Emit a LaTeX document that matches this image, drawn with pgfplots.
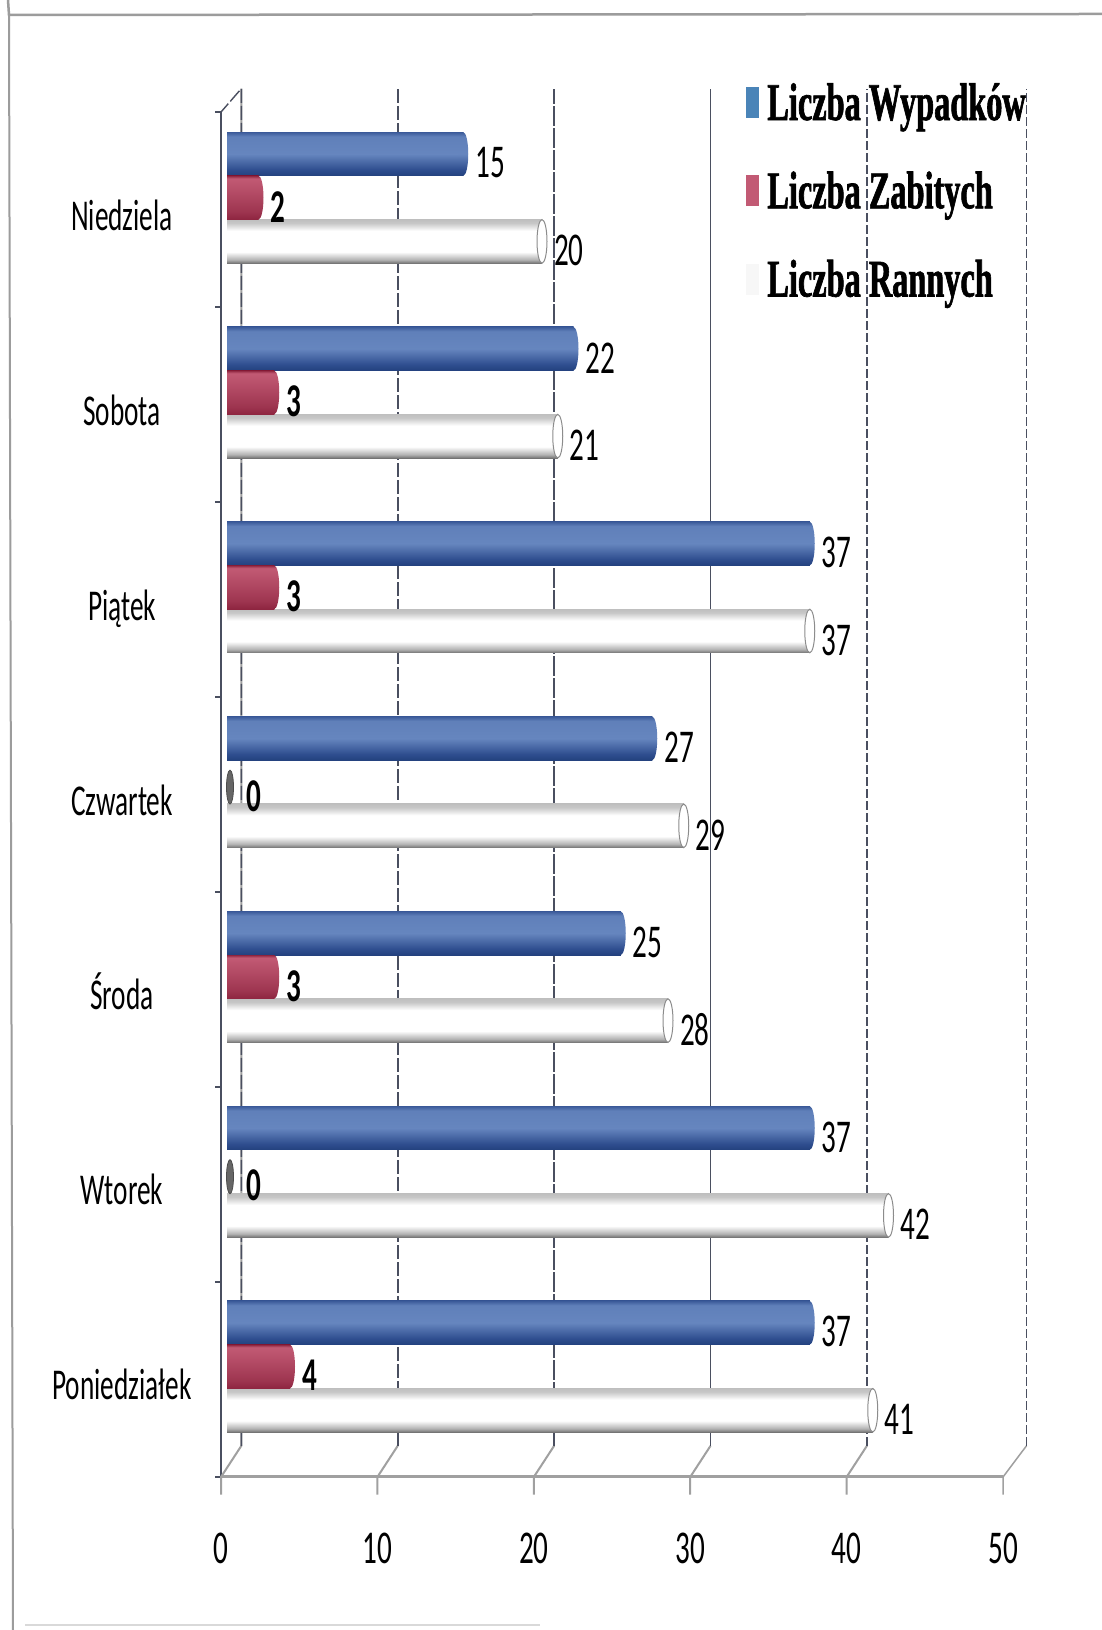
\documentclass[border=0pt]{standalone}
\usepackage{pgfplots}
\pgfplotsset{compat=1.18}
\usepackage{fontspec}
\setmainfont{Carlito}
\newfontfamily\cond[FakeStretch=0.62]{Carlito}
\newfontfamily\legf[FakeStretch=0.61,FakeBold=1.2]{Liberation Serif}
\definecolor{wall}{HTML}{4A4F60}
\definecolor{floorc}{HTML}{A0A0A0}
\definecolor{blueL}{HTML}{6C8CC4}
\definecolor{blueD}{HTML}{2F4E8F}
\definecolor{blueE}{HTML}{23417E}
\definecolor{blueK}{HTML}{4A84B8}
\definecolor{redL}{HTML}{C25A74}
\definecolor{redD}{HTML}{8E2540}
\definecolor{frameC}{HTML}{9C9C9C}
\pgfdeclareverticalshading{bluecyl}{100bp}{
 color(0bp)=(blueE); color(25bp)=(blueE); color(32bp)=(blueD); color(50bp)=(blueL!90!blueD); color(70bp)=(blueL!80!blueD); color(75bp)=(blueD!80!blueL); color(100bp)=(blueD!80!blueL)}
\pgfdeclareverticalshading{redcyl}{100bp}{
 color(0bp)=(redD); color(25bp)=(redD); color(34bp)=(redD!70!redL); color(55bp)=(redL!70!redD); color(72bp)=(redL); color(75bp)=(redD); color(100bp)=(redD)}
\pgfdeclareverticalshading{whitecyl}{100bp}{
 color(0bp)=(black!55); color(25bp)=(black!55); color(29bp)=(black!30); color(38bp)=(white); color(62bp)=(white); color(71bp)=(black!22); color(75bp)=(black!25); color(100bp)=(black!25)}
\pgfdeclareplotmark{capB}{%
 \pgfpathellipse{\pgfpointorigin}{\pgfpoint{5pt}{0pt}}{\pgfpoint{0pt}{21.8pt}}%
 \pgfshadepath{bluecyl}{0}\pgfusepath{discard}}
\pgfdeclareplotmark{capR}{%
 \pgfpathellipse{\pgfpointorigin}{\pgfpoint{5pt}{0pt}}{\pgfpoint{0pt}{21.8pt}}%
 \pgfshadepath{redcyl}{0}\pgfusepath{discard}}
\pgfdeclareplotmark{capW}{%
 \pgfpathellipse{\pgfpointorigin}{\pgfpoint{5pt}{0pt}}{\pgfpoint{0pt}{21.8pt}}%
 \pgfusepathqfillstroke}
\pgfdeclareplotmark{capZ}{%
 \pgfpathellipse{\pgfpointorigin}{\pgfpoint{3.5pt}{0pt}}{\pgfpoint{0pt}{17pt}}%
 \pgfusepathqfillstroke}
\pgfplotstableread{
y  w  z  r
0 37  4 41
1 37  0 42
2 25  3 28
3 27  0 29
4 37  3 37
5 22  3 21
6 15  2 20
}\data
\begin{document}
\begin{tikzpicture}[x=1pt,y=1pt]
\useasboundingbox (0,0) rectangle (1102,1630);
\fill[white] (0,0) rectangle (1102,1630);
\draw[frameC,line width=2.5pt] (8,1630) -- (9,1615) -- (1102,1616);
\draw[frameC,line width=2pt] (9,1615) -- (13,0);
\draw[black!15,line width=1.5pt] (25,5) -- (540,5);
% frame of the 3-D chart
\begin{axis}[
  name=frame, at={(221pt,153pt)}, anchor=south west,
  scale only axis, width=782pt, height=1365pt,
  xmin=0, xmax=50, ymin=0, ymax=7,
  clip=false,
  axis y line=left, axis x line=bottom,
  axis line style={-},
  x axis line style={floorc,line width=3pt},
  y axis line style={wall,line width=1.5pt},
  xtick={0,10,20,30,40,50},
  ytick={0,1,2,3,4,5,6,7}, yticklabels={},
  major tick length=6pt,
  tick align=outside,
  xtick style={draw=none},
  ytick style={wall,line width=2pt},
  /pgf/number format/assume math mode=true,
  xticklabel style={font=\fontsize{47}{47}\cond, anchor=center, yshift=-65pt},
]
\addplot[floorc,line width=2pt,forget plot] coordinates {(0,-0.09)(0,0)(1.3,0.16)(1.3,7.12)};
\addplot[wall,line width=1.4pt,dash pattern=on 14pt off 3pt,forget plot] coordinates {(1.3,0.16)(1.3,7.12)(0,7)};
\addplot[floorc,line width=2pt,forget plot] coordinates {(10,-0.09)(10,0)(11.3,0.16)};
\addplot[wall,line width=1.6pt,dash pattern=on 14pt off 3pt,forget plot] coordinates {(11.3,0.16)(11.3,7.12)};
\addplot[floorc,line width=2pt,forget plot] coordinates {(20,-0.09)(20,0)(21.3,0.16)};
\addplot[wall,line width=1.6pt,dash pattern=on 20pt off 2pt,forget plot] coordinates {(21.3,0.16)(21.3,7.12)};
\addplot[floorc,line width=2pt,forget plot] coordinates {(30,-0.09)(30,0)(31.3,0.16)};
\addplot[wall,line width=1.4pt,forget plot] coordinates {(31.3,0.16)(31.3,7.12)};
\addplot[floorc,line width=2pt,forget plot] coordinates {(40,-0.09)(40,0)(41.3,0.16)};
\addplot[wall,line width=1.5pt,dash pattern=on 9pt off 3pt,forget plot] coordinates {(41.3,0.16)(41.3,7.12)};
\addplot[floorc,line width=1.5pt,forget plot] coordinates {(50,-0.09)(50,0)(51.5,0.16)};
\addplot[wall,line width=1.2pt,dash pattern=on 9pt off 3pt,forget plot] coordinates {(51.5,0.16)(51.5,7.12)};
\end{axis}
% bars
\begin{axis}[
  at={(227pt,153pt)}, anchor=south west,
  scale only axis, width=787.5pt, height=1365pt,
  xmin=0, xmax=50, ymin=-0.567, ymax=6.44,
  clip=false,
  hide x axis,
  axis y line*=left,
  y axis line style={draw=none},
  ytick={0,1,2,3,4,5,6}, major tick length=0pt,
  yticklabels={Poniedziałek,Wtorek,Środa,Czwartek,Piątek,Sobota,Niedziela},
  yticklabel style={font=\fontsize{44}{44}\cond, anchor=center, text height=30pt, text depth=10pt, xshift=-105pt, yshift=-23pt},
  xbar, bar width=43.7pt,
  /pgf/number format/assume math mode=true,
  nodes near coords,
  nodes near coords style={font=\fontsize{47}{47}\cond, anchor=west, inner sep=0pt, xshift=12pt, yshift=-9pt, text=black},
  legend cell align=left,
  legend style={at={(519pt,1365pt)}, anchor=north west, draw=none, fill=none,
    font=\fontsize{53}{53}\legf\bfseries, row sep=50pt, inner sep=0pt, nodes={inner sep=0pt},
    yshift=29pt},
]
\addlegendimage{legend image code/.code={\path[draw=none,fill=none] (0pt,0pt) -- (21pt,0pt); \fill[blueK] (0pt,-15pt) rectangle (12pt,15pt);}}
\addlegendentry{Liczba Wypadków}
\addlegendimage{legend image code/.code={\path[draw=none,fill=none] (0pt,0pt) -- (21pt,0pt); \fill[redL] (0pt,-15pt) rectangle (12pt,15pt);}}
\addlegendentry{Liczba Zabitych}
\addlegendimage{legend image code/.code={\path[draw=none,fill=none] (0pt,0pt) -- (21pt,0pt); \fill[black!3] (0pt,-15pt) rectangle (12pt,15pt);}}
\addlegendentry{Liczba Rannych}
\pgfplotsinvokeforeach{0,1,2,3,4,5,6}{
  \addplot[forget plot, draw=none, shading=bluecyl, bar shift=43.7pt,
     restrict y to domain=#1:#1] table[x=w,y=y]{\data};
  \addplot[forget plot, draw=none, shading=whitecyl, bar shift=-43.7pt,
     restrict y to domain=#1:#1] table[x=r,y=y]{\data};
}
\pgfplotsinvokeforeach{0,2,4,5,6}{
  \addplot[forget plot, draw=none, shading=redcyl, bar shift=0pt,
     nodes near coords style={font=\fontsize{47}{47}\cond\bfseries},
     restrict y to domain=#1:#1] table[x=z,y=y]{\data};
}
% end caps of the cylinders
\addplot[forget plot, draw=none, only marks, mark=capB, nodes near coords=\empty,
   mark options={yshift=43.7pt}]
   table[x=w,y=y]{\data};
\addplot[forget plot, draw=none, only marks, mark=capR, nodes near coords=\empty,
   restrict x to domain=0.5:100]
   table[x=z,y=y]{\data};
\addplot[forget plot, draw=none, only marks, mark=capW, nodes near coords=\empty,
   mark options={fill=white, draw=black!45, line width=1pt, yshift=-43.7pt}]
   table[x=r,y=y]{\data};
% zero values: a thin grey disc and its label
\addplot[forget plot, draw=none, only marks, mark=capZ, bar shift=0pt,
   restrict x to domain=-1:0.5,
   mark options={fill=black!60, draw=black!70, line width=.8pt, xshift=3pt, yshift=-5pt},
   nodes near coords style={font=\fontsize{47}{47}\cond\bfseries, xshift=4pt}]
   table[x=z,y=y]{\data};
\end{axis}
\end{tikzpicture}
\end{document}
